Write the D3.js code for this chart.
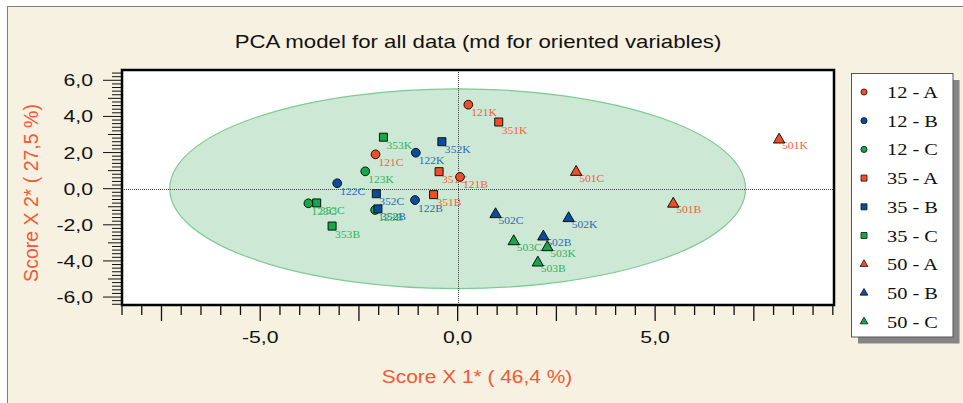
<!DOCTYPE html>
<html>
<head>
<meta charset="utf-8">
<script src="https://cdn.jsdelivr.net/npm/d3@7"></script>
<style>
  html, body { margin: 0; padding: 0; background: #ffffff; }
  svg { display: block; }
</style>
</head>
<body>
<script>
// ---- data ----
const chartTitle = "PCA model for all data (md for oriented variables)";
const xTitle = "Score X 1* ( 46,4 %)";
const yTitle = "Score X 2* ( 27,5 %)";

const seriesNames = ["12 - A", "12 - B", "12 - C", "35 - A", "35 - B", "35 - C", "50 - A", "50 - B", "50 - C"];

const sampleLabels = [
  "121K", "121C", "121B", "122K", "122C", "122B", "123K", "123C", "123B",
  "351K", "351C", "351B", "352K", "352C", "352B", "353K", "353C", "353B",
  "501K", "501C", "501B", "502K", "502C", "502B", "503K", "503C", "503B"
];
// index into seriesNames
const sampleSeries = [0, 0, 0, 1, 1, 1, 2, 2, 2, 3, 3, 3, 4, 4, 4, 5, 5, 5, 6, 6, 6, 7, 7, 7, 8, 8, 8];
const scoreX1 = [
  0.27, -2.08, 0.06, -1.06, -3.05, -1.08, -2.34, -3.78, -2.09,
  1.04, -0.47, -0.61, -0.40, -2.06, -2.02, -1.88, -3.57, -3.18,
  8.14, 3.00, 5.46, 2.81, 0.96, 2.17, 2.27, 1.42, 2.03
];
const scoreX2 = [
  4.65, 1.90, 0.65, 1.99, 0.30, -0.63, 0.96, -0.81, -1.18,
  3.69, 0.94, -0.33, 2.60, -0.28, -1.12, 2.85, -0.79, -2.07,
  2.71, 0.92, -0.84, -1.64, -1.42, -2.66, -3.25, -2.92, -4.10
];

// confidence ellipse (half axes in score units)
const ellipseRadii = [7.29, 5.53];

const xTickLabels = [-5, 0, 5];
const yTickLabels = [-6, -4, -2, 0, 2, 4, 6];

// ---- layout ----
const width = 963, height = 403;
const plot = { left: 122, right: 834, top: 70, bottom: 305 };

const red = "#f04e28", blue = "#0a4d9e", green = "#14a84a";
const labelColors = ["#f2603c", "#2d68b2", "#2fb463"];
const fillColors = [red, blue, green];
const shapes = [d3.symbolCircle, d3.symbolSquare, d3.symbolTriangle];

const comma = d3.formatLocale({ decimal: ",", thousands: ".", grouping: [3], currency: ["", ""], minus: "-" }).format(".1f");

const svg = d3.select("body").append("svg")
    .attr("width", width)
    .attr("height", height);

// outer frame
svg.append("rect")
    .attr("x", 7.5).attr("y", 6.5)
    .attr("width", width + 10).attr("height", height + 10)
    .attr("fill", "#f7f1e2")
    .attr("stroke", "#808080");

let x = d3.scaleLinear().domain([-8.5, 9.53]).range([plot.left, plot.right]);
let y = d3.scaleLinear().domain([-6.44, 6.57]).range([plot.bottom, plot.top]);

// text drawn a bit wider than the font, like the original
function placeText(sel, px, py, sx) {
    sel.attr("transform", `translate(${px},${py}) scale(${sx},1)`);
}

// title
svg.append("text")
    .attr("text-anchor", "middle")
    .attr("font-family", "Liberation Sans, Arial, sans-serif")
    .attr("font-size", 18)
    .attr("fill", "#111")
    .text(chartTitle)
    .call(placeText, 478, 47.5, 1.235);

// plot background
svg.append("rect")
    .attr("x", plot.left).attr("y", plot.top)
    .attr("width", plot.right - plot.left).attr("height", plot.bottom - plot.top)
    .attr("fill", "#ffffff");

let clip = svg.append("clipPath").attr("id", "plotclip")
    .append("rect")
    .attr("x", plot.left).attr("y", plot.top)
    .attr("width", plot.right - plot.left).attr("height", plot.bottom - plot.top);

let g = svg.append("g").attr("clip-path", "url(#plotclip)");

// ellipse
g.append("ellipse")
    .attr("cx", x(0))
    .attr("cy", y(0))
    .attr("rx", x(ellipseRadii[0]) - x(0))
    .attr("ry", y(0) - y(ellipseRadii[1]))
    .attr("fill", "#cde8d4")
    .attr("stroke", "#7ccb92")
    .attr("stroke-width", 1.2);

// zero lines
g.append("line")
    .attr("x1", plot.left).attr("x2", plot.right)
    .attr("y1", Math.round(y(0)) + 0.5).attr("y2", Math.round(y(0)) + 0.5)
    .attr("stroke", "#444").attr("stroke-dasharray", "1,1");
g.append("line")
    .attr("x1", Math.round(x(0)) + 0.5).attr("x2", Math.round(x(0)) + 0.5)
    .attr("y1", plot.top).attr("y2", plot.bottom)
    .attr("stroke", "#444").attr("stroke-dasharray", "1,1");

let points = sampleLabels.map((lab, i) => ({
    label: lab,
    series: sampleSeries[i],
    x: scoreX1[i],
    y: scoreX2[i]
}));

// point labels
g.selectAll("text.plabel")
    .data(points)
    .enter()
    .append("text")
    .attr("class", "plabel")
    .attr("font-family", "Liberation Serif, Times New Roman, serif")
    .attr("font-size", 10.5)
    .attr("fill", d => labelColors[d.series % 3])
    .text(d => d.label)
    .each(function (d) {
        let dy = Math.floor(d.series / 3) == 2 ? 9.5 : 11.5;
        d3.select(this).call(placeText, x(d.x) + 3, y(d.y) + dy, 1.1);
    });

// markers
g.selectAll("path.marker")
    .data(points)
    .enter()
    .append("path")
    .attr("class", "marker")
    .attr("d", d => {
        let shape = Math.floor(d.series / 3);
        let size = [60, 64, 56][shape];
        return d3.symbol().type(shapes[shape]).size(size)();
    })
    .attr("transform", d => `translate(${x(d.x)},${y(d.y)})`)
    .attr("fill", d => fillColors[d.series % 3])
    .attr("stroke", "#111")
    .attr("stroke-width", 1);

// plot border
svg.append("rect")
    .attr("x", plot.left).attr("y", plot.top)
    .attr("width", plot.right - plot.left).attr("height", plot.bottom - plot.top)
    .attr("fill", "none")
    .attr("stroke", "#000")
    .attr("stroke-width", 2.5);

// x axis ticks
let xTicks = d3.range(-17, 20).map(v => v * 0.5);
svg.selectAll("line.xtick")
    .data(xTicks)
    .enter()
    .append("line")
    .attr("class", "xtick")
    .attr("x1", d => x(d)).attr("x2", d => x(d))
    .attr("y1", plot.bottom)
    .attr("y2", d => plot.bottom + (Math.abs(d % 2.5) < 1e-9 ? 16 : 10))
    .attr("stroke", "#111").attr("stroke-width", 1.3);

svg.selectAll("text.xlab")
    .data(xTickLabels)
    .enter()
    .append("text")
    .attr("class", "xlab")
    .attr("text-anchor", "middle")
    .attr("font-family", "Liberation Sans, Arial, sans-serif")
    .attr("font-size", 17)
    .attr("fill", "#111")
    .text(d => comma(d))
    .each(function (d) { d3.select(this).call(placeText, x(d), 343, 1.25); });

// y axis ticks
let yTicks = d3.range(-32, 33).map(v => v * 0.2);
svg.selectAll("line.ytick")
    .data(yTicks)
    .enter()
    .append("line")
    .attr("class", "ytick")
    .attr("y1", d => y(d)).attr("y2", d => y(d))
    .attr("x1", plot.left)
    .attr("x2", d => {
        let r = Math.round(d * 5);
        if (r % 10 == 0) return plot.left - 19;
        if (r % 5 == 0) return plot.left - 14;
        return plot.left - 10;
    })
    .attr("stroke", "#111").attr("stroke-width", 1);

svg.selectAll("text.ylab")
    .data(yTickLabels)
    .enter()
    .append("text")
    .attr("class", "ylab")
    .attr("text-anchor", "end")
    .attr("font-family", "Liberation Sans, Arial, sans-serif")
    .attr("font-size", 17)
    .attr("fill", "#111")
    .text(d => comma(d))
    .each(function (d) { d3.select(this).call(placeText, 93, y(d) + 6, 1.25); });

// axis titles
svg.append("text")
    .attr("text-anchor", "middle")
    .attr("font-family", "Liberation Sans, Arial, sans-serif")
    .attr("font-size", 19)
    .attr("fill", "#f05a36")
    .text(xTitle)
    .call(placeText, 477, 383, 1.1);

svg.append("text")
    .attr("text-anchor", "middle")
    .attr("font-family", "Liberation Sans, Arial, sans-serif")
    .attr("font-size", 19.5)
    .attr("fill", "#f05a36")
    .attr("transform", "translate(37.5,193) rotate(-90)")
    .text(yTitle);

// legend
let legend = { left: 851, top: 73, right: 952.5, bottom: 336.5 };
svg.append("rect")
    .attr("x", legend.left + 7).attr("y", legend.top + 7)
    .attr("width", legend.right - legend.left).attr("height", legend.bottom - legend.top)
    .attr("fill", "#858585");
svg.append("rect")
    .attr("x", legend.left + 0.5).attr("y", legend.top + 0.5)
    .attr("width", legend.right - legend.left).attr("height", legend.bottom - legend.top)
    .attr("fill", "#ffffff")
    .attr("stroke", "#555").attr("stroke-width", 1);

let entries = svg.selectAll("g.entry")
    .data(seriesNames)
    .enter()
    .append("g")
    .attr("class", "entry")
    .attr("transform", (d, i) => `translate(0, ${92 + i * 28.7})`);

entries.append("path")
    .attr("d", (d, i) => {
        let shape = Math.floor(i / 3);
        return d3.symbol().type(shapes[shape]).size([30, 36, 26][shape])();
    })
    .attr("transform", "translate(864,0)")
    .attr("fill", (d, i) => fillColors[i % 3])
    .attr("stroke", "#111")
    .attr("stroke-width", 0.8);

entries.append("text")
    .attr("font-family", "Liberation Serif, Times New Roman, serif")
    .attr("font-size", 17)
    .attr("fill", "#111")
    .text(d => d)
    .each(function () { d3.select(this).call(placeText, 887, 6, 1.2); });
</script>
</body>
</html>
